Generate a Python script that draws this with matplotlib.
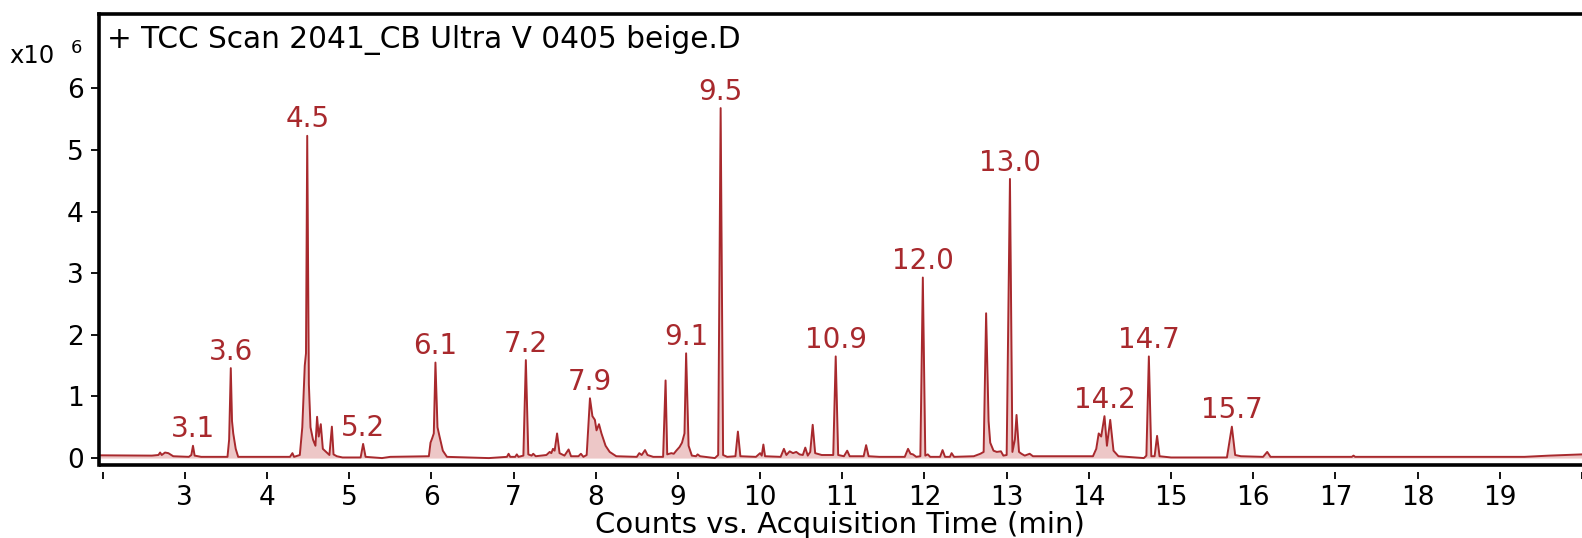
import numpy as np
import matplotlib
matplotlib.use("Agg")
import matplotlib.pyplot as plt

plt.rcParams['font.family'] = ['DejaVu Sans']

# -----------------------------
# chromatogram trace (min, counts x10^6)
# -----------------------------
ret_time = [
    1.96, 2.60, 2.68, 2.70, 2.72, 2.76, 2.80, 2.86, 3.05, 3.08, 3.10, 3.12, 3.20,
    3.52, 3.54, 3.56, 3.575, 3.59, 3.62, 3.65, 4.28, 4.31, 4.33, 4.40, 4.43, 4.46,
    4.475, 4.49, 4.51, 4.53, 4.56, 4.59, 4.61, 4.63, 4.655, 4.68, 4.72, 4.76, 4.79,
    4.81, 4.85, 4.92, 5.14, 5.17, 5.20, 5.40, 5.50, 5.97, 5.99, 6.01, 6.03, 6.05,
    6.075, 6.10, 6.14, 6.19, 6.70, 6.92, 6.94, 6.96, 7.02, 7.04, 7.06, 7.12, 7.15,
    7.18, 7.22, 7.24, 7.27, 7.40, 7.44, 7.46, 7.48, 7.50, 7.53, 7.56, 7.62, 7.67,
    7.70, 7.79, 7.82, 7.85, 7.89, 7.93, 7.96, 7.99, 8.01, 8.04, 8.07, 8.12, 8.17,
    8.25, 8.50, 8.53, 8.56, 8.60, 8.63, 8.70, 8.82, 8.85, 8.87, 8.92, 8.95, 8.98,
    9.02, 9.05, 9.08, 9.10, 9.13, 9.17, 9.22, 9.24, 9.27, 9.45, 9.49, 9.52, 9.55,
    9.60, 9.70, 9.73, 9.76, 9.95, 10.00, 10.02, 10.04, 10.06, 10.25, 10.29, 10.32,
    10.36, 10.40, 10.44, 10.48, 10.52, 10.55, 10.58, 10.61, 10.64, 10.67, 10.75,
    10.89, 10.92, 10.95, 11.02, 11.06, 11.09, 11.26, 11.29, 11.32, 11.45, 11.76,
    11.80, 11.83, 11.86, 11.90, 11.95, 11.98, 12.01, 12.04, 12.07, 12.19, 12.22,
    12.25, 12.31, 12.33, 12.36, 12.60, 12.68, 12.72, 12.75, 12.78, 12.80, 12.84,
    12.88, 12.93, 12.96, 13.00, 13.04, 13.07, 13.10, 13.12, 13.15, 13.18, 13.22,
    13.28, 13.32, 14.05, 14.09, 14.12, 14.15, 14.19, 14.22, 14.26, 14.30, 14.36,
    14.67, 14.70, 14.73, 14.76, 14.80, 14.83, 14.86, 15.00, 15.68, 15.74, 15.78,
    15.85, 16.12, 16.17, 16.21, 17.20, 17.22, 17.24, 18.50, 19.30, 19.60, 20.00,
]
counts = [
    0.045, 0.04, 0.05, 0.09, 0.05, 0.09, 0.08, 0.03, 0.02, 0.05, 0.20, 0.04, 0.02,
    0.02, 0.30, 1.46, 0.60, 0.40, 0.15, 0.02, 0.02, 0.08, 0.02, 0.05, 0.50, 1.50,
    1.70, 5.23, 1.20, 0.50, 0.30, 0.20, 0.67, 0.35, 0.55, 0.15, 0.10, 0.05, 0.51,
    0.06, 0.03, 0.01, 0.01, 0.23, 0.02, 0.00, 0.02, 0.03, 0.25, 0.32, 0.40, 1.55,
    0.50, 0.35, 0.12, 0.02, 0.00, 0.02, 0.07, 0.02, 0.02, 0.06, 0.02, 0.04, 1.59,
    0.06, 0.04, 0.07, 0.03, 0.05, 0.10, 0.08, 0.15, 0.12, 0.40, 0.08, 0.04, 0.14,
    0.03, 0.03, 0.07, 0.02, 0.05, 0.97, 0.68, 0.62, 0.45, 0.55, 0.40, 0.20, 0.10,
    0.03, 0.02, 0.08, 0.05, 0.13, 0.05, 0.02, 0.02, 1.26, 0.06, 0.08, 0.07, 0.12,
    0.18, 0.25, 0.40, 1.70, 0.20, 0.04, 0.03, 0.06, 0.03, 0.00, 0.05, 5.68, 0.05,
    0.02, 0.03, 0.43, 0.03, 0.02, 0.08, 0.04, 0.22, 0.03, 0.02, 0.15, 0.05,
    0.11, 0.08, 0.10, 0.06, 0.05, 0.17, 0.04, 0.10, 0.54, 0.08, 0.05,
    0.05, 1.65, 0.05, 0.03, 0.12, 0.03, 0.03, 0.21, 0.03, 0.02, 0.02,
    0.15, 0.07, 0.06, 0.02, 0.03, 2.93, 0.04, 0.06, 0.02, 0.02, 0.13,
    0.02, 0.02, 0.08, 0.02, 0.03, 0.07, 0.10, 2.35, 0.60, 0.25, 0.12,
    0.10, 0.11, 0.04, 0.05, 4.53, 0.10, 0.30, 0.70, 0.10, 0.07, 0.04,
    0.07, 0.03, 0.03, 0.15, 0.40, 0.35, 0.68, 0.20, 0.62, 0.12, 0.03,
    0.00, 0.04, 1.65, 0.03, 0.03, 0.36, 0.03, 0.01, 0.01, 0.51, 0.05,
    0.03, 0.02, 0.10, 0.02, 0.02, 0.04, 0.02, 0.02, 0.02, 0.04, 0.06,
]

# labelled peaks
peak_labels = ["3.1", "3.6", "4.5", "5.2", "6.1", "7.2", "7.9", "9.1", "9.5",
               "10.9", "12.0", "13.0", "14.2", "14.7", "15.7"]
peak_times = [3.10, 3.56, 4.49, 5.17, 6.05, 7.15, 7.93, 9.10, 9.52,
              10.92, 11.98, 13.04, 14.19, 14.73, 15.74]

x_ticks = list(range(2, 21))
x_ticklabels = [""] + [str(t) for t in range(3, 20)] + [""]
y_ticks = [0, 1, 2, 3, 4, 5, 6]

red = "#a8292d"

fig = plt.figure(figsize=(15.82, 5.38), dpi=100)
ax = fig.add_axes([0.0626, 0.1348, 0.9374, 0.8384])

t = np.array(ret_time)
c = np.array(counts)
ax.fill_between(t, c, 0, color="#e9b9b9", alpha=0.8, lw=0)
ax.plot(t, c, color=red, lw=1.4)

# peak labels just above the apex
for lab, pt in zip(peak_labels, peak_times):
    top = c[(t >= pt - 0.03) & (t <= pt + 0.03)].max()
    ax.annotate(lab, (pt, top), xytext=(0, 6), textcoords="offset points",
                ha="center", va="baseline", color=red, fontsize=20)

ax.set_xlim(1.957, 20.0)
ax.set_ylim(-0.12, 7.2)

ax.set_xticks(x_ticks)
ax.set_xticklabels(x_ticklabels)
ax.set_yticks(y_ticks)
ax.tick_params(axis="x", direction="out", length=5, width=1.3, pad=4, labelsize=19)
ax.tick_params(axis="y", direction="out", length=6, width=1.3, pad=5, labelsize=19)

for side in ["top", "left"]:
    ax.spines[side].set_linewidth(2.6)
ax.spines["right"].set_visible(False)
ax.spines["bottom"].set_position(("outward", 5))
ax.spines["bottom"].set_color("none")
ax.plot([0, 1], [0, 0], transform=ax.transAxes, color="black", lw=2.6,
        clip_on=False, solid_capstyle="butt")

ax.text(0.0054, 0.9255, "+ TCC Scan 2041_CB Ultra V 0405 beige.D",
        transform=ax.transAxes, ha="left", va="baseline", fontsize=21.3)
fig.text(9 / 1582, 1 - 63 / 538, "x10", ha="left", va="baseline", fontsize=17.5)
fig.text(71 / 1582, 1 - 53 / 538, "6", ha="left", va="baseline", fontsize=13)
fig.text(0.531, 1 - 533 / 538, "Counts vs. Acquisition Time (min)", ha="center",
         va="baseline", fontsize=21)

fig.savefig("out.png", dpi=100)
